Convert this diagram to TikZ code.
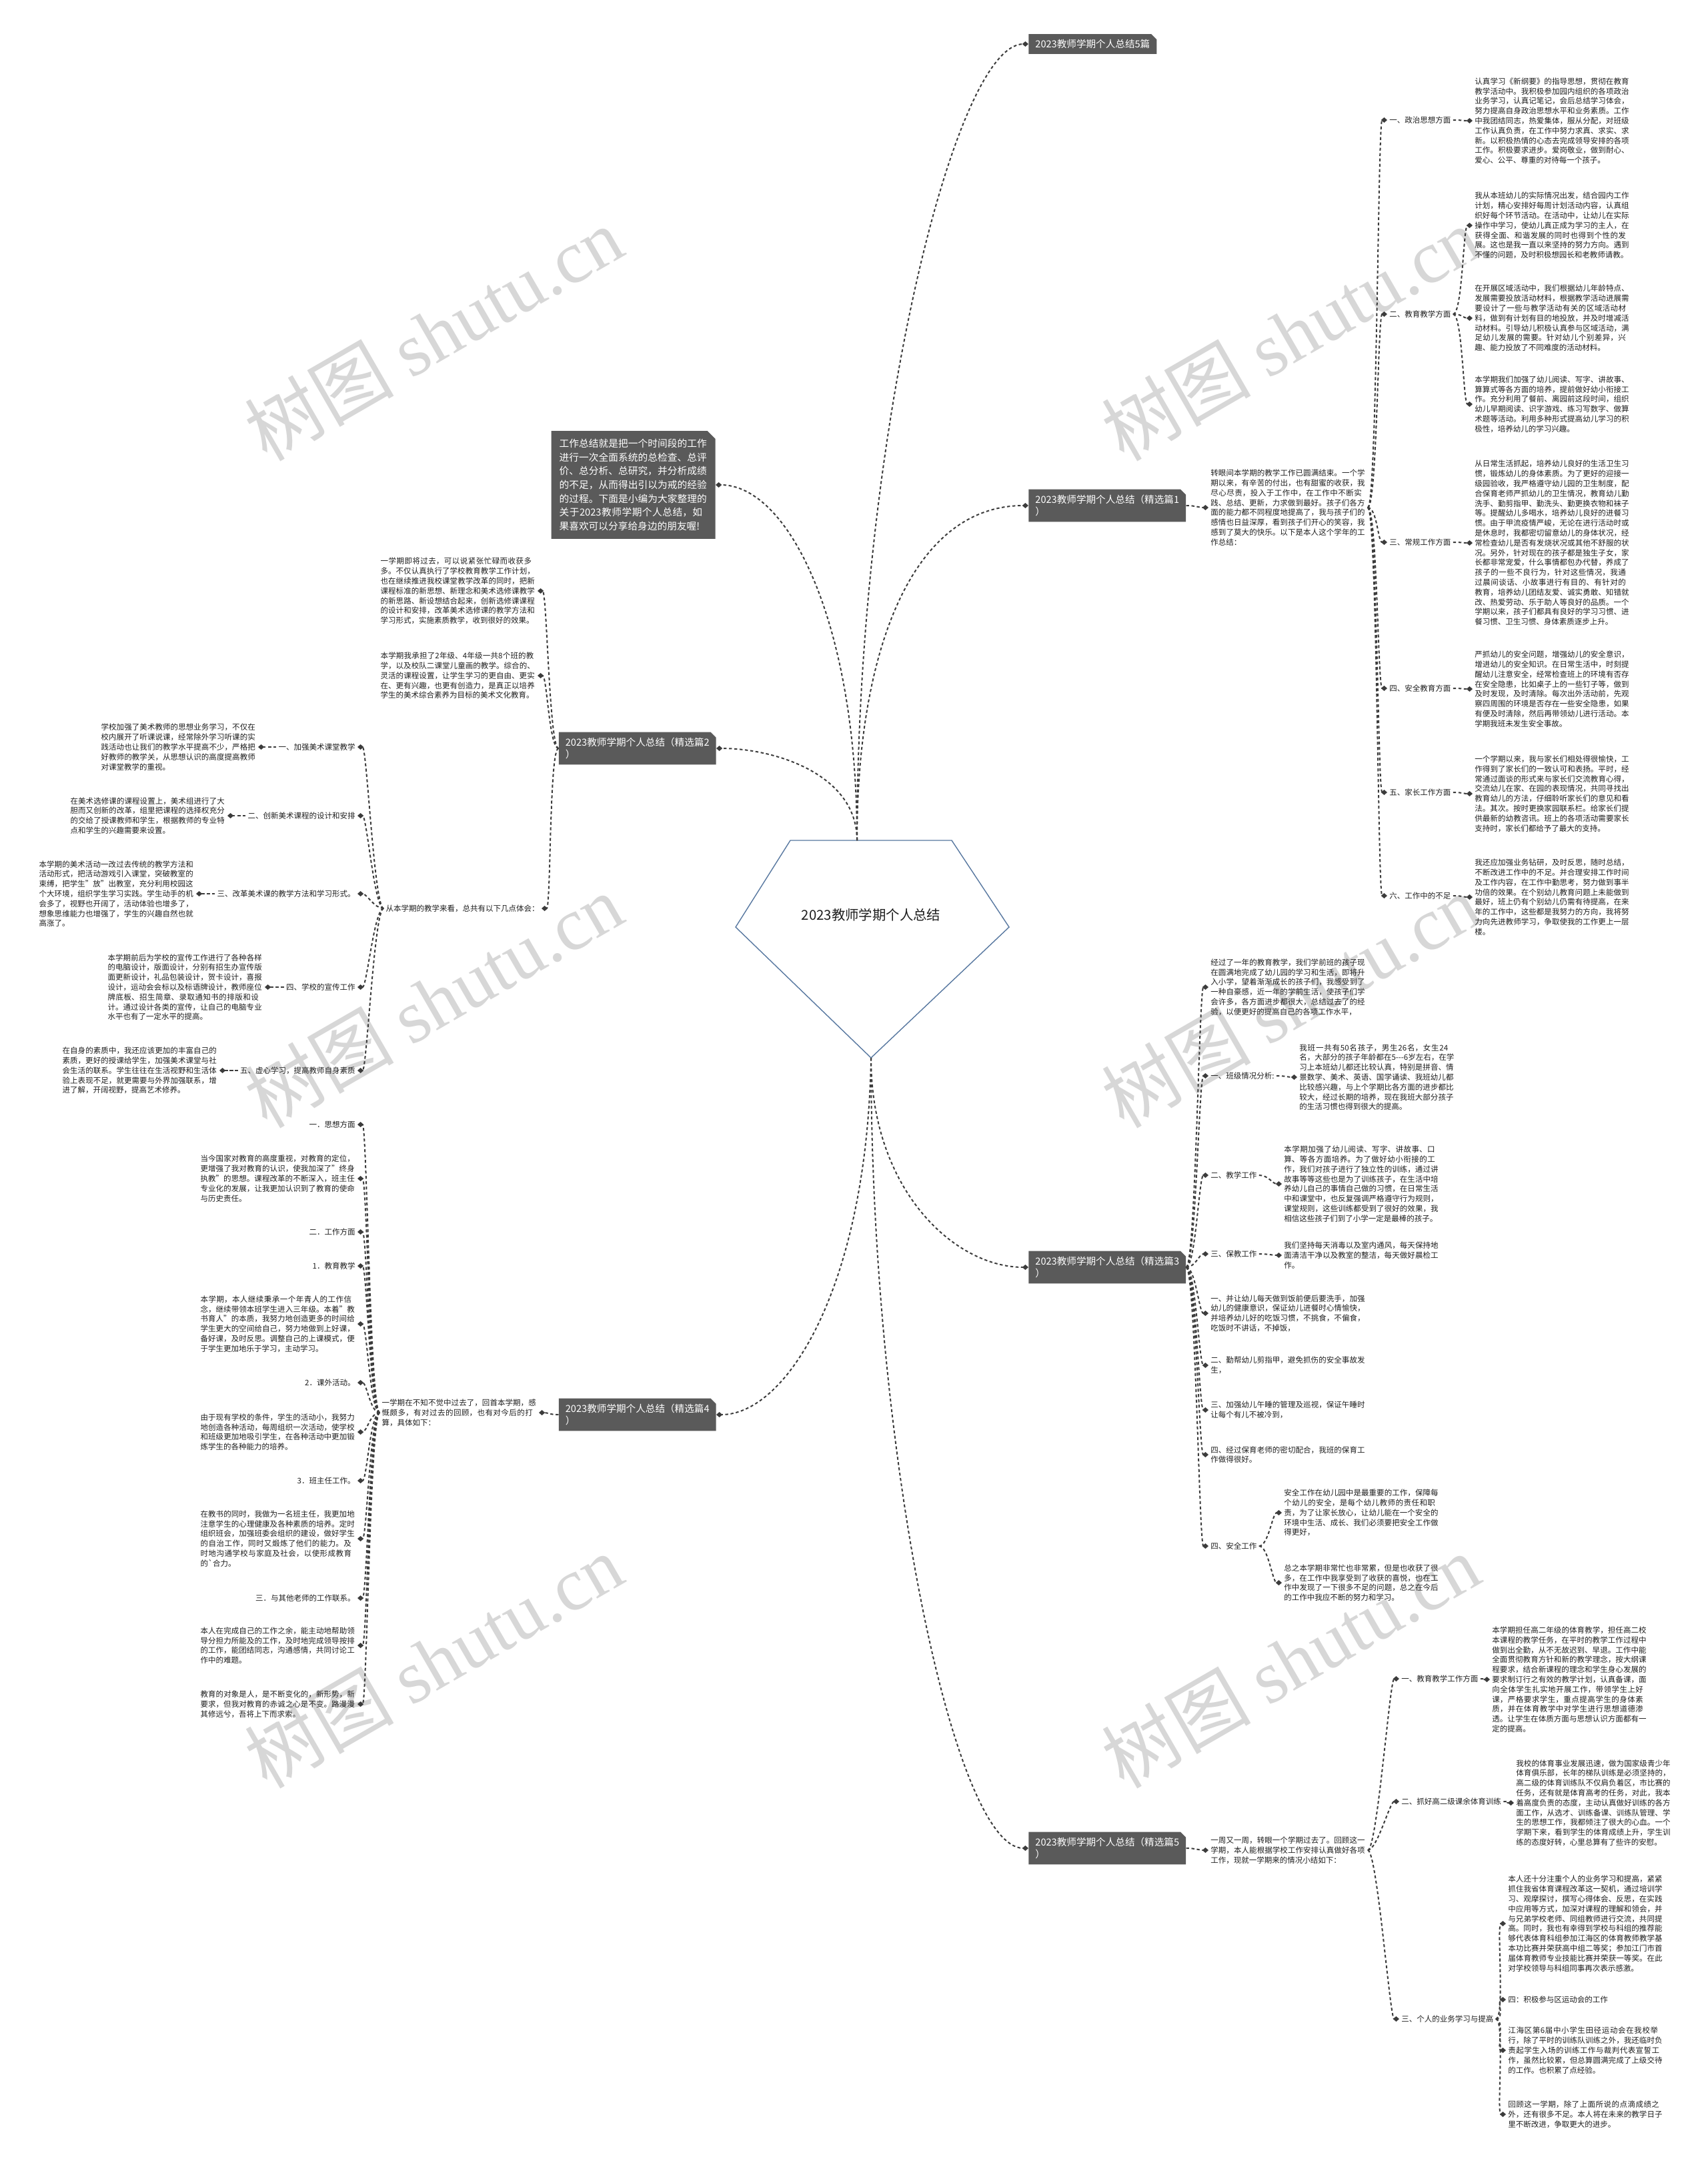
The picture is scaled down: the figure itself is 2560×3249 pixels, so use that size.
\documentclass[tikz,border=0pt]{standalone}
\usepackage{fontspec}
\setmainfont{Noto Sans CJK SC}
\newfontfamily\wmfont{Liberation Serif}
\usetikzlibrary{arrows.meta, shapes.misc}
\XeTeXlinebreaklocale "zh"
\XeTeXlinebreakskip = 0pt plus 1pt
\definecolor{rootblue}{RGB}{88,120,160}
\definecolor{boxgray}{RGB}{90,90,90}
\definecolor{linkgray}{RGB}{60,60,60}
\definecolor{textdark}{RGB}{30,30,30}
\definecolor{markgray}{RGB}{215,215,215}

\begin{document}
\begin{tikzpicture}[x=0.5pt, y=-0.5pt]
  \tikzset{
    body/.style={
      font=\fontsize{5.75}{7.4}\selectfont,
      text=textdark,
      text width=116pt,
      align=left,
      inner sep=1.5pt
    },
    tag/.style={
      font=\fontsize{5.75}{7.4}\selectfont,
      text=textdark,
      inner sep=1.5pt
    },
    part/.style={
      chamfered rectangle,
      chamfered rectangle corners=north east,
      chamfered rectangle sep=2pt,
      fill=boxgray,
      text=white,
      font=\fontsize{7.3}{9.4}\selectfont,
      align=left,
      inner xsep=3pt,
      inner ysep=2pt
    },
    lead/.style={
      chamfered rectangle,
      chamfered rectangle corners=north east,
      chamfered rectangle sep=3pt,
      fill=boxgray,
      text=white,
      font=\fontsize{7.35}{10.35}\selectfont,
      text width=111pt,
      align=left,
      inner xsep=3pt,
      inner ysep=3pt
    },
    rootline/.style={
      draw=rootblue,
      line width=0.7pt,
      fill=white
    },
    wmark/.style={
      text=markgray,
      font=\fontsize{56}{60}\selectfont,
      rotate=30,
      inner sep=0pt
    },
    link/.style={
      draw=linkgray,
      line width=1pt,
      dash pattern=on 2.2pt off 1.8pt,
      -{Diamond[length=4.6pt, width=4pt]}
    },
    rlink/.style={link, to path={.. controls +(14,0) and +(-14,0) .. (\tikztotarget)}},
    llink/.style={link, to path={.. controls +(-14,0) and +(14,0) .. (\tikztotarget)}}
  }

  \useasboundingbox (0,0) rectangle (2560,3249);

  % watermarks
  \node[wmark] (wm1) at (650,500) {树图 {\wmfont shutu.cn}};
  \node[wmark] (wm2) at (1935,500) {树图 {\wmfont shutu.cn}};
  \node[wmark] (wm3) at (650,1500) {树图 {\wmfont shutu.cn}};
  \node[wmark] (wm4) at (1935,1500) {树图 {\wmfont shutu.cn}};
  \node[wmark] (wm5) at (650,2490) {树图 {\wmfont shutu.cn}};
  \node[wmark] (wm6) at (1935,2490) {树图 {\wmfont shutu.cn}};

  % central topic
  \draw[rootline] (1185,1260) -- (1427,1260) -- (1513,1390) -- (1306,1586) -- (1103,1390) -- cycle;
  \node[font=\fontsize{10.2}{12}\selectfont, text=textdark] (root) at (1306,1372) {2023教师学期个人总结};
  \coordinate (rootN) at (1285,1260);
  \coordinate (rootS) at (1306,1586);

  % main branches
  \node[part, anchor=west] (head) at (1542,66) {2023教师学期个人总结5篇};
  \node[part, anchor=west] (part1) at (1542,758) {2023教师学期个人总结（精选篇1\\）};
  \node[part, anchor=east] (part2) at (1074,1122) {2023教师学期个人总结（精选篇2\\）};
  \node[part, anchor=west] (part3) at (1542,1900) {2023教师学期个人总结（精选篇3\\）};
  \node[part, anchor=east] (part4) at (1074,2121) {2023教师学期个人总结（精选篇4\\）};
  \node[part, anchor=west] (part5) at (1542,2771) {2023教师学期个人总结（精选篇5\\）};
  \node[lead, anchor=east] (preface) at (1073,727) {工作总结就是把一个时间段的工作进行一次全面系统的总检查、总评价、总分析、总研究，并分析成绩的不足，从而得出引以为戒的经验的过程。下面是小编为大家整理的关于2023教师学期个人总结，如果喜欢可以分享给身边的朋友喔!};

  \draw[link] (rootN) .. controls (1285,663) and (1430,66) .. (head.west);
  \draw[link] (rootN) .. controls (1285,975) and (1368,758) .. (part1.west);
  \draw[link] (rootN) .. controls (1285,933) and (1182,727) .. (preface.east);
  \draw[link] (rootN) .. controls (1285,1160) and (1160,1122) .. (part2.east);
  \draw[link] (rootS) .. controls (1306,1783) and (1430,1900) .. (part3.west);
  \draw[link] (rootS) .. controls (1300,1928) and (1180,2121) .. (part4.east);
  \draw[link] (rootS) .. controls (1306,2177) and (1430,2771) .. (part5.west);

  % part 1
  \node[body, anchor=west] (p1lead) at (1812,761) {转眼间本学期的教学工作已圆满结束。一个学期以来，有辛苦的付出，也有甜蜜的收获，我尽心尽责，投入于工作中，在工作中不断实践、总结、更新，力求做到最好。孩子们各方面的能力都不同程度地提高了，我与孩子们的感情也日益深厚，看到孩子们开心的笑容，我感到了莫大的快乐。以下是本人这个学年的工作总结：};
  \node[tag, anchor=west] (p1l1) at (2080,180) {一、政治思想方面};
  \node[tag, anchor=west] (p1l2) at (2080,471) {二、教育教学方面};
  \node[tag, anchor=west] (p1l3) at (2080,813) {三、常规工作方面};
  \node[tag, anchor=west] (p1l4) at (2080,1032) {四、安全教育方面};
  \node[tag, anchor=west] (p1l5) at (2080,1188) {五、家长工作方面};
  \node[tag, anchor=west] (p1l6) at (2080,1343) {六、工作中的不足};
  \node[body, anchor=west] (p1t1) at (2208,181) {认真学习《新纲要》的指导思想，贯彻在教育教学活动中。我积极参加园内组织的各项政治业务学习，认真记笔记，会后总结学习体会，努力提高自身政治思想水平和业务素质。工作中我团结同志，热爱集体，服从分配，对班级工作认真负责，在工作中努力求真、求实、求新。以积极热情的心态去完成领导安排的各项工作。积极要求进步。爱岗敬业，做到耐心、爱心、公平、尊重的对待每一个孩子。};
  \node[body, anchor=west] (p1t2) at (2208,338) {我从本班幼儿的实际情况出发，结合园内工作计划，精心安排好每周计划活动内容，认真组织好每个环节活动。在活动中，让幼儿在实际操作中学习，使幼儿真正成为学习的主人，在获得全面、和谐发展的同时也得到个性的发展。这也是我一直以来坚持的努力方向。遇到不懂的问题，及时积极想园长和老教师请教。};
  \node[body, anchor=west] (p1t3) at (2208,477) {在开展区域活动中，我们根据幼儿年龄特点、发展需要投放活动材料，根据教学活动进展需要设计了一些与教学活动有关的区域活动材料，做到有计划有目的地投放，并及时增减活动材料。引导幼儿积极认真参与区域活动，满足幼儿发展的需要。针对幼儿个别差异，兴趣、能力投放了不同难度的活动材料。};
  \node[body, anchor=west] (p1t4) at (2208,606) {本学期我们加强了幼儿阅读、写字、讲故事、算算式等各方面的培养，提前做好幼小衔接工作。充分利用了餐前、离园前这段时间，组织幼儿早期阅读、识字游戏、练习写数字、做算术题等活动。利用多种形式提高幼儿学习的积极性，培养幼儿的学习兴趣。};
  \node[body, anchor=west] (p1t5) at (2208,814) {从日常生活抓起，培养幼儿良好的生活卫生习惯，锻炼幼儿的身体素质。为了更好的迎接一级园验收，我严格遵守幼儿园的卫生制度，配合保育老师严抓幼儿的卫生情况，教育幼儿勤洗手、勤剪指甲、勤洗头、勤更换衣物和袜子等。提醒幼儿多喝水，培养幼儿良好的进餐习惯。由于甲流疫情严峻，无论在进行活动时或是休息时，我都密切留意幼儿的身体状况，经常检查幼儿是否有发烧状况或其他不舒服的状况。另外，针对现在的孩子都是独生子女，家长都非常宠爱，什么事情都包办代替，养成了孩子的一些不良行为，针对这些情况，我通过晨间谈话、小故事进行有目的、有针对的教育，培养幼儿团结友爱、诚实勇敢、知错就改、热爱劳动、乐于助人等良好的品质。一个学期以来，孩子们都具有良好的学习习惯、进餐习惯、卫生习惯、身体素质逐步上升。};
  \node[body, anchor=west] (p1t6) at (2208,1033) {严抓幼儿的安全问题，增强幼儿的安全意识，增进幼儿的安全知识。在日常生活中，时刻提醒幼儿注意安全，经常检查班上的环境有否存在安全隐患，比如桌子上的一些钉子等，做到及时发现，及时清除。每次出外活动前，先观察四周围的环境是否存在一些安全隐患，如果有便及时清除，然后再带领幼儿进行活动。本学期我班未发生安全事故。};
  \node[body, anchor=west] (p1t7) at (2208,1190) {一个学期以来，我与家长们相处得很愉快，工作得到了家长们的一致认可和表扬。平时，经常通过面谈的形式来与家长们交流教育心得，交流幼儿在家、在园的表现情况，共同寻找出教育幼儿的方法，仔细聆听家长们的意见和看法。其次。按时更换家园联系栏。给家长们提供最新的幼教咨讯。班上的各项活动需要家长支持时，家长们都给予了最大的支持。};
  \node[body, anchor=west] (p1t8) at (2208,1345) {我还应加强业务钻研，及时反思，随时总结，不断改进工作中的不足。并合理安排工作时间及工作内容，在工作中勤思考，努力做到事半功倍的效果。在个别幼儿教育问题上未能做到最好，班上仍有个别幼儿仍需有待提高，在来年的工作中，这些都是我努力的方向，我将努力向先进教师学习，争取使我的工作更上一层楼。};

  \draw[rlink] (part1.east) to (p1lead.west);
  \foreach \k in {p1l1,p1l2,p1l3,p1l4,p1l5,p1l6}
    \draw[rlink] (p1lead.east) to (\k.west);
  \draw[rlink] (p1l1.east) to (p1t1.west);
  \foreach \k in {p1t2,p1t3,p1t4}
    \draw[rlink] (p1l2.east) to (\k.west);
  \draw[rlink] (p1l3.east) to (p1t5.west);
  \draw[rlink] (p1l4.east) to (p1t6.west);
  \draw[rlink] (p1l5.east) to (p1t7.west);
  \draw[rlink] (p1l6.east) to (p1t8.west);

  % part 2
  \node[body, anchor=east] (p2a) at (806,886) {一学期即将过去，可以说紧张忙碌而收获多多。不仅认真执行了学校教育教学工作计划，也在继续推进我校课堂教学改革的同时，把新课程标准的新思想、新理念和美术选修课教学的新思路、新设想结合起来，创新选修课课程的设计和安排，改革美术选修课的教学方法和学习形式，实施素质教学，收到很好的效果。};
  \node[body, anchor=east] (p2b) at (806,1013) {本学期我承担了2年级、4年级一共8个班的教学，以及校队二课堂儿童画的教学。综合的、灵活的课程设置，让学生学习的更自由、更实在、更有兴趣，也更有创造力，是真正以培养学生的美术综合素养为目标的美术文化教育。};
  \node[tag, anchor=east] (p2lead) at (812,1362) {从本学期的教学来看，总共有以下几点体会：};
  \node[tag, anchor=east] (p2l1) at (536,1120) {一、加强美术课堂教学};
  \node[tag, anchor=east] (p2l2) at (536,1223) {二、创新美术课程的设计和安排};
  \node[tag, anchor=east] (p2l3) at (536,1340) {三、改革美术课的教学方法和学习形式。};
  \node[tag, anchor=east] (p2l4) at (536,1480) {四、学校的宣传工作};
  \node[tag, anchor=east] (p2l5) at (536,1605) {五、虚心学习，提高教师自身素质};
  \node[body, anchor=east] (p2t1) at (387,1120) {学校加强了美术教师的思想业务学习，不仅在校内展开了听课说课，经常除外学习听课的实践活动也让我们的教学水平提高不少，严格把好教师的教学关，从思想认识的高度提高教师对课堂教学的重视。};
  \node[body, anchor=east] (p2t2) at (341,1223) {在美术选修课的课程设置上，美术组进行了大胆而又创新的改革，组里把课程的选择权充分的交给了授课教师和学生，根据教师的专业特点和学生的兴趣需要来设置。};
  \node[body, anchor=east] (p2t3) at (294,1340) {本学期的美术活动一改过去传统的教学方法和活动形式，把活动游戏引入课堂，突破教室的束缚，把学生"放"出教室，充分利用校园这个大环境，组织学生学习实践。学生动手的机会多了，视野也开阔了，活动体验也增多了，想象思维能力也增强了，学生的兴趣自然也就高涨了。};
  \node[body, anchor=east] (p2t4) at (397,1480) {本学期前后为学校的宣传工作进行了各种各样的电脑设计，版面设计，分别有招生办宣传版面更新设计，礼品包装设计，贺卡设计，喜报设计，运动会会标以及标语牌设计，教师座位牌底板、招生简章、录取通知书的排版和设计。通过设计各类的宣传，让自己的电脑专业水平也有了一定水平的提高。};
  \node[body, anchor=east] (p2t5) at (329,1605) {在自身的素质中，我还应该更加的丰富自己的素质，更好的授课给学生，加强美术课堂与社会生活的联系。学生往往在生活视野和生活体验上表现不足，就更需要与外界加强联系，增进了解，开阔视野，提高艺术修养。};

  \foreach \k in {p2a,p2b,p2lead}
    \draw[llink] (part2.west) to (\k.east);
  \foreach \k in {p2l1,p2l2,p2l3,p2l4,p2l5}
    \draw[llink] (p2lead.west) to (\k.east);
  \foreach \n in {1,...,5}
    \draw[llink] (p2l\n.west) to (p2t\n.east);

  % part 3
  \node[body, anchor=west] (p3a) at (1812,1480) {经过了一年的教育教学，我们学前班的孩子现在圆满地完成了幼儿园的学习和生活，即将升入小学，望着渐渐成长的孩子们，我感受到了一种自豪感，近一年的学前生活，使孩子们学会许多，各方面进步都很大，总结过去了的经验，以便更好的提高自己的各项工作水平，};
  \node[tag, anchor=west] (p3l1) at (1812,1613) {一、班级情况分析:};
  \node[tag, anchor=west] (p3l2) at (1812,1762) {二、教学工作};
  \node[tag, anchor=west] (p3l3) at (1812,1880) {三、保教工作};
  \node[body, anchor=west] (p3b) at (1812,1969) {一、并让幼儿每天做到饭前便后要洗手，加强幼儿的健康意识，保证幼儿进餐时心情愉快，并培养幼儿好的吃饭习惯，不挑食，不偏食，吃饭时不讲话，不掉饭，};
  \node[body, anchor=west] (p3c) at (1812,2047) {二、勤帮幼儿剪指甲，避免抓伤的安全事故发生，};
  \node[body, anchor=west] (p3d) at (1812,2114) {三、加强幼儿午睡的管理及巡视，保证午睡时让每个有儿不被冷到，};
  \node[body, anchor=west] (p3e) at (1812,2181) {四、经过保育老师的密切配合，我班的保育工作做得很好。};
  \node[tag, anchor=west] (p3l4) at (1812,2318) {四、安全工作};
  \node[body, anchor=west] (p3t1) at (1945,1615) {我班一共有50名孩子，男生26名，女生24名，大部分的孩子年龄都在5-{}-{}-6岁左右，在学习上本班幼儿都还比较认真，特别是拼音、情景数学、美术、英语、国学诵读、我班幼儿都比较感兴趣，与上个学期比各方面的进步都比较大，经过长期的培养，现在我班大部分孩子的生活习惯也得到很大的提高。};
  \node[body, anchor=west] (p3t2) at (1922,1775) {本学期加强了幼儿阅读、写字、讲故事、口算、等各方面培养。为了做好幼小衔接的工作，我们对孩子进行了独立性的训练，通过讲故事等等这些也是为了训练孩子，在生活中培养幼儿自己的事情自己做的习惯，在日常生活中和课堂中，也反复强调严格遵守行为规则，课堂规则，这些训练都受到了很好的效果，我相信这些孩子们到了小学一定是最棒的孩子。};
  \node[body, anchor=west] (p3t3) at (1922,1882) {我们坚持每天消毒以及室内通风，每天保持地面清洁干净以及教室的整洁，每天做好晨检工作。};
  \node[body, anchor=west] (p3t4) at (1922,2268) {安全工作在幼儿园中是最重要的工作，保障每个幼儿的安全，是每个幼儿教师的责任和职责，为了让家长放心，让幼儿能在一个安全的环境中生活、成长、我们必须要把安全工作做得更好，};
  \node[body, anchor=west] (p3t5) at (1922,2373) {总之本学期非常忙也非常累，但是也收获了很多，在工作中我享受到了收获的喜悦，也在工作中发现了一下很多不足的问题，总之在今后的工作中我应不断的努力和学习。};

  \foreach \k in {p3a,p3l1,p3l2,p3l3,p3b,p3c,p3d,p3e,p3l4}
    \draw[rlink] (part3.east) to (\k.west);
  \draw[rlink] (p3l1.east) to (p3t1.west);
  \draw[rlink] (p3l2.east) to (p3t2.west);
  \draw[rlink] (p3l3.east) to (p3t3.west);
  \draw[rlink] (p3l4.east) to (p3t4.west);
  \draw[rlink] (p3l4.east) to (p3t5.west);

  % part 4
  \node[body, anchor=east] (p4lead) at (808,2118) {一学期在不知不觉中过去了，回首本学期，感慨颇多，有对过去的回顾，也有对今后的打算，具体如下：};
  \node[tag, anchor=east] (p4i1) at (536,1686) {一．思想方面};
  \node[body, anchor=east] (p4i2) at (536,1767) {当今国家对教育的高度重视，对教育的定位，更增强了我对教育的认识，使我加深了"终身执教"的思想。课程改革的不断深入，班主任专业化的发展，让我更加认识到了教育的使命与历史责任。};
  \node[tag, anchor=east] (p4i3) at (536,1847) {二．工作方面};
  \node[tag, anchor=east] (p4i4) at (536,1898) {1．教育教学};
  \node[body, anchor=east] (p4i5) at (536,1985) {本学期，本人继续秉承一个年青人的工作信念，继续带领本班学生进入三年级。本着"教书育人"的本质，我努力地创造更多的时间给学生更大的空间给自己，努力地做到上好课，备好课，及时反思。调整自己的上课模式，便于学生更加地乐于学习，主动学习。};
  \node[tag, anchor=east] (p4i6) at (536,2073) {2．课外活动。};
  \node[body, anchor=east] (p4i7) at (536,2147) {由于现有学校的条件，学生的活动小，我努力地创造各种活动，每周组织一次活动，使学校和班级更加地吸引学生，在各种活动中更加锻炼学生的各种能力的培养。};
  \node[tag, anchor=east] (p4i8) at (536,2220) {3．班主任工作。};
  \node[body, anchor=east] (p4i9) at (536,2307) {在教书的同时，我做为一名班主任，我更加地注意学生的心理健康及各种素质的培养。定时组织班会，加强班委会组织的建设，做好学生的自治工作，同时又煅炼了他们的能力。及时地沟通学校与家庭及社会，以使形成教育的\textasciigrave 合力。};
  \node[tag, anchor=east] (p4i10) at (536,2396) {三．与其他老师的工作联系。};
  \node[body, anchor=east] (p4i11) at (536,2467) {本人在完成自己的工作之余，能主动地帮助领导分担力所能及的工作，及时地完成领导按排的工作，能团结同志，沟通感情，共同讨论工作中的难题。};
  \node[body, anchor=east] (p4i12) at (536,2555) {教育的对象是人，是不断变化的，新形势，新要求，但我对教育的赤诚之心是不变。路漫漫其修远兮，吾将上下而求索。};

  \draw[llink] (part4.west) to (p4lead.east);
  \foreach \n in {1,...,12}
    \draw[llink] (p4lead.west) to (p4i\n.east);

  % part 5
  \node[body, anchor=west] (p5lead) at (1812,2774) {一周又一周，转眼一个学期过去了。回顾这一学期，本人能根据学校工作安排认真做好各项工作，现就一学期来的情况小结如下：};
  \node[tag, anchor=west] (p5l1) at (2098,2517) {一、教育教学工作方面};
  \node[tag, anchor=west] (p5l2) at (2098,2701) {二、抓好高二级课余体育训练};
  \node[tag, anchor=west] (p5l3) at (2098,3027) {三、个人的业务学习与提高};
  \node[body, anchor=west] (p5t1) at (2234,2518) {本学期担任高二年级的体育教学，担任高二校本课程的教学任务，在平时的教学工作过程中做到出全勤，从不无故迟到、早退。工作中能全面贯彻教育方针和新的教学理念，按大纲课程要求，结合新课程的理念和学生身心发展的要求制订行之有效的教学计划，认真备课，面向全体学生扎实地开展工作，带领学生上好课，严格要求学生，重点提高学生的身体素质，并在体育教学中对学生进行思想道德渗透。让学生在体质方面与思想认识方面都有一定的提高。};
  \node[body, anchor=west] (p5t2) at (2270,2703) {我校的体育事业发展迅速，做为国家级青少年体育俱乐部，长年的梯队训练是必须坚持的，高二级的体育训练队不仅肩负着区，市比赛的任务，还有就是体育高考的任务，对此，我本着高度负责的态度，主动认真做好训练的各方面工作，从选才、训练备课、训练队管理、学生的思想工作，我都倾注了很大的心血。一个学期下来，看到学生的体育成绩上升，学生训练的态度好转，心里总算有了些许的安慰。};
  \node[body, anchor=west] (p5s1) at (2258,2884) {本人还十分注重个人的业务学习和提高，紧紧抓住我省体育课程改革这一契机，通过培训学习、观摩探讨，撰写心得体会、反思，在实践中应用等方式，加深对课程的理解和领会，并与兄弟学校老师、同组教师进行交流，共同提高。同时，我也有幸得到学校与科组的推荐能够代表体育科组参加江海区的体育教师教学基本功比赛并荣获高中组二等奖；参加江门市首届体育教师专业技能比赛并荣获一等奖。在此对学校领导与科组同事再次表示感激。};
  \node[tag, anchor=west] (p5s2) at (2258,2998) {四：积极参与区运动会的工作};
  \node[body, anchor=west] (p5s3) at (2258,3074) {江海区第6届中小学生田径运动会在我校举行，除了平时的训练队训练之外，我还临时负责起学生入场的训练工作与裁判代表宣誓工作，虽然比较累，但总算圆满完成了上级交待的工作。也积累了点经验。};
  \node[body, anchor=west] (p5s4) at (2258,3170) {回顾这一学期，除了上面所说的点滴成绩之外，还有很多不足。本人将在未来的教学日子里不断改进，争取更大的进步。};

  \draw[rlink] (part5.east) to (p5lead.west);
  \foreach \k in {p5l1,p5l2,p5l3}
    \draw[rlink] (p5lead.east) to (\k.west);
  \draw[rlink] (p5l1.east) to (p5t1.west);
  \draw[rlink] (p5l2.east) to (p5t2.west);
  \foreach \k in {p5s1,p5s2,p5s3,p5s4}
    \draw[rlink] (p5l3.east) to (\k.west);

\end{tikzpicture}
\end{document}
